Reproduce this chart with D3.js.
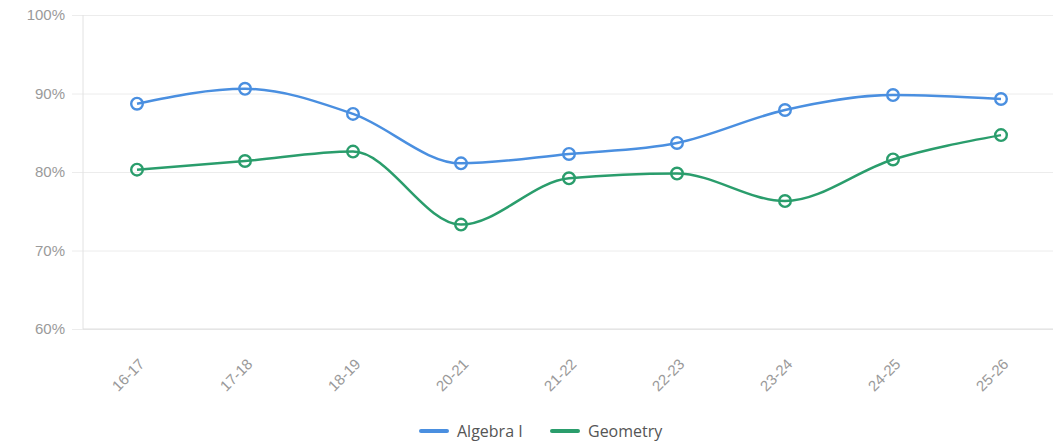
<!DOCTYPE html>
<html>
<head>
<meta charset="utf-8">
<script src="https://cdn.jsdelivr.net/npm/d3@7"></script>
<style>
  body { margin: 0; background: #fff; }
  svg { display: block; font-family: 'Open Sans', sans-serif; }
</style>
</head>
<body>
<div id="chart"></div>
<script>
// ---- data ----
const years = ['16-17', '17-18', '18-19', '20-21', '21-22', '22-23', '23-24', '24-25', '25-26'];
const algebra = [88.7, 90.6, 87.4, 81.1, 82.3, 83.7, 87.9, 89.8, 89.3];
const geometry = [80.3, 81.4, 82.6, 73.3, 79.2, 79.8, 76.3, 81.6, 84.7];
const yTicks = [60, 70, 80, 90, 100];

const series = [
    { name: 'Algebra I', values: algebra, color: '#4a8fe0' },
    { name: 'Geometry', values: geometry, color: '#2a9d6c' },
];

const width = 1053;
const height = 447;
const margin = { top: 15, right: 0, bottom: 118, left: 83 };

const svg = d3.select('#chart')
    .append('svg')
    .attr('width', width)
    .attr('height', height);

const x = d3.scalePoint()
    .domain(years)
    .range([margin.left, 1055])
    .padding(0.5);

const y = d3.scaleLinear()
    .domain([60, 100])
    .range([height - margin.bottom, margin.top]);

/* gridlines + y labels */
const gY = svg.append('g')
    .attr('transform', `translate(${margin.left}, 0)`)
    .call(d3.axisLeft(y)
        .tickValues(yTicks)
        .tickSize(-(width - margin.left))
        .tickPadding(18)
        .tickFormat(d => d + '%'));
gY.select('.domain').remove();
gY.selectAll('.tick line')
    .attr('x1', -11)
    .attr('stroke', '#ececec');
gY.selectAll('.tick text')
    .attr('fill', '#9a9a9a')
    .attr('font-size', 15);

/* left axis line */
svg.append('line')
    .attr('x1', margin.left).attr('x2', margin.left)
    .attr('y1', y(100)).attr('y2', y(60))
    .attr('stroke', '#e2e2e2');

/* bottom axis line */
svg.append('line')
    .attr('x1', margin.left).attr('x2', width)
    .attr('y1', y(60)).attr('y2', y(60))
    .attr('stroke', '#dedede');

/* x labels */
const gX = svg.append('g')
    .attr('transform', `translate(0, ${y(60)})`)
    .call(d3.axisBottom(x).tickSize(0).tickPadding(0));
gX.select('.domain').remove();
gX.selectAll('.tick text')
    .attr('fill', '#9a9a9a')
    .attr('font-size', 15)
    .attr('text-anchor', 'end')
    .attr('dy', 0)
    .attr('transform', 'translate(8, 36) rotate(-45)');

/* lines */
const lineGen = d3.line()
    .x((d, i) => x(years[i]))
    .y(d => y(d))
    .curve(d3.curveMonotoneX);

series.forEach(s => {
    svg.append('path')
        .datum(s.values)
        .attr('d', lineGen)
        .attr('fill', 'none')
        .attr('stroke', s.color)
        .attr('stroke-width', 2.5);

    svg.selectAll(null)
        .data(s.values)
        .join('circle')
        .attr('cx', (d, i) => x(years[i]))
        .attr('cy', d => y(d))
        .attr('r', 5.8)
        .attr('fill', 'none')
        .attr('stroke', s.color)
        .attr('stroke-width', 2.4);
});

/* legend */
const legend = svg.append('g').attr('transform', `translate(0, ${431})`);
const legendX = [421, 552];
series.forEach((s, i) => {
    const g = legend.append('g').attr('transform', `translate(${legendX[i]}, 0)`);
    g.append('line')
        .attr('x1', 0).attr('x2', 26)
        .attr('stroke', s.color)
        .attr('stroke-width', 4)
        .attr('stroke-linecap', 'round');
    g.append('text')
        .attr('x', 36)
        .attr('dy', '0.35em')
        .attr('fill', '#555')
        .attr('font-size', 16)
        .text(s.name);
});
</script>
</body>
</html>
